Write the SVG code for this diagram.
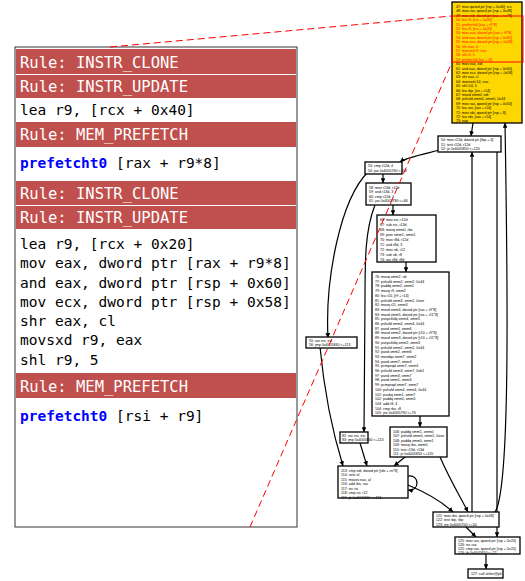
<svg xmlns="http://www.w3.org/2000/svg" width="525" height="581" viewBox="0 0 525 581">
<style>
.rule{fill:#c0504d}
.rt{font-family:"DejaVu Sans Mono","Liberation Mono",monospace;font-size:15.5px;fill:#ffffff}
.ct{font-family:"DejaVu Sans Mono","Liberation Mono",monospace;font-size:14.5px;fill:#000000}
.pf{fill:#0000ff;font-weight:bold}
.n{fill:#ffffff;stroke:#000000;stroke-width:1.3}
.ny{fill:#ffd700;stroke:#000000;stroke-width:1.3}
.t{font-family:"Liberation Sans",Arial,sans-serif;font-size:3.6px;fill:#000000}
.tr{fill:#ff0000}
.e{fill:none;stroke:#000000;stroke-width:1.2}
.d{fill:none;stroke:#ff0000;stroke-width:1;stroke-dasharray:7,4}
</style>
<defs>
<marker id="ah" viewBox="0 0 10 10" refX="10" refY="5" markerWidth="4" markerHeight="4" orient="auto"><path d="M0,0 L10,5 L0,10 z" fill="#000000"/></marker>
</defs>
<g id="panel">
<rect x="15" y="47" width="282" height="480" fill="#ffffff" stroke="#333333" stroke-width="1"/>
<rect class="rule" x="16" y="49" width="280" height="25"/>
<rect class="rule" x="16" y="75" width="280" height="23"/>
<rect class="rule" x="16" y="122" width="280" height="25"/>
<rect class="rule" x="16" y="181" width="280" height="24"/>
<rect class="rule" x="16" y="206" width="280" height="23"/>
<rect class="rule" x="16" y="373" width="280" height="25"/>
<text class="rt" x="20" y="68">Rule: INSTR_CLONE</text>
<text class="rt" x="20" y="92">Rule: INSTR_UPDATE</text>
<text class="ct" x="20" y="115">lea r9, [rcx + 0x40]</text>
<text class="rt" x="20" y="140">Rule: MEM_PREFETCH</text>
<text class="ct" x="20" y="168"><tspan class="pf">prefetcht0</tspan> [rax + r9*8]</text>
<text class="rt" x="20" y="199">Rule: INSTR_CLONE</text>
<text class="rt" x="20" y="223">Rule: INSTR_UPDATE</text>
<text class="ct" x="20" y="249">lea r9, [rcx + 0x20]</text>
<text class="ct" x="20" y="268">mov eax, dword ptr [rax + r9*8]</text>
<text class="ct" x="20" y="288">and eax, dword ptr [rsp + 0x60]</text>
<text class="ct" x="20" y="307">mov ecx, dword ptr [rsp + 0x58]</text>
<text class="ct" x="20" y="326">shr eax, cl</text>
<text class="ct" x="20" y="345">movsxd r9, eax</text>
<text class="ct" x="20" y="365">shl r9, 5</text>
<text class="rt" x="20" y="392">Rule: MEM_PREFETCH</text>
<text class="ct" x="20" y="421"><tspan class="pf">prefetcht0</tspan> [rsi + r9]</text>
</g>
<g id="connectors">
<path class="e" d="M473,123 L471,136" marker-end="url(#ah)"/>
<path class="e" d="M440,150 C420,155 405,158 400,162" marker-end="url(#ah)"/>
<path class="e" d="M383,174 L383,183" marker-end="url(#ah)"/>
<path class="e" d="M368,172 C340,200 325,280 328,338" marker-end="url(#ah)"/>
<path class="e" d="M393,205 L393,215" marker-end="url(#ah)"/>
<path class="e" d="M375,205 C365,230 365,260 365,300 L364,432" marker-end="url(#ah)"/>
<path class="e" d="M406,262 L406,272" marker-end="url(#ah)"/>
<path class="e" d="M420,416 L420,427" marker-end="url(#ah)"/>
<path class="e" d="M320,347 C325,400 335,440 343,466" marker-end="url(#ah)"/>
<path class="e" d="M360,443 L367,466" marker-end="url(#ah)"/>
<path class="e" d="M405,457 L394,466" marker-end="url(#ah)"/>
<path class="e" d="M440,457 C450,480 462,500 468,512" marker-end="url(#ah)"/>
<path class="e" d="M408,485 C425,492 440,500 453,512" marker-end="url(#ah)"/>
<path class="e" d="M408,476 C420,474 420,492 408,490" marker-end="url(#ah)"/>
<path class="e" d="M472,512 L472,152" marker-end="url(#ah)"/>
<path class="e" d="M495,512 C510,490 508,300 505,123" marker-end="url(#ah)"/>
<path class="e" d="M497,148 L497,537" marker-end="url(#ah)"/>
<path class="e" d="M466,527 L476,537" marker-end="url(#ah)"/>
<path class="e" d="M486,554 L486,569" marker-end="url(#ah)"/>
</g>
<g id="n_yellow">
<rect class="ny" x="452" y="2" width="70" height="121"/>
<text class="t" x="456" y="8">47: mov qword ptr [rsp + 0x40], rcx</text>
<text class="t" x="456" y="12.4">48: mov rax, qword ptr [rsp + 0x48]</text>
<text class="t" x="456" y="16.8">49: mov edi, dword ptr [rax + rcx*8]</text>
<text class="t tr" x="456" y="21.2">50: lea r9, [rcx + 0x40]</text>
<text class="t tr" x="456" y="25.6">51: prefetcht0 [rax + r9*8]</text>
<text class="t tr" x="456" y="30">52: lea r9, [rcx + 0x20]</text>
<text class="t tr" x="456" y="34.4">53: mov eax, dword ptr [rax + r9*8]</text>
<text class="t tr" x="456" y="38.8">54: and eax, dword ptr [rsp + 0x60]</text>
<text class="t tr" x="456" y="43.2">55: mov ecx, dword ptr [rsp + 0x58]</text>
<text class="t tr" x="456" y="47.6">56: shr eax, cl</text>
<text class="t tr" x="456" y="52">57: movsxd r9, eax</text>
<text class="t tr" x="456" y="56.4">58: shl r9, 5</text>
<text class="t tr" x="456" y="60.8">59: prefetcht0 [rsi + r9]</text>
<text class="t" x="456" y="65.2">60: mov eax, edi</text>
<text class="t" x="456" y="69.6">61: and eax, dword ptr [rsp + 0x60]</text>
<text class="t" x="456" y="74">62: mov ecx, dword ptr [rsp + 0x58]</text>
<text class="t" x="456" y="78.4">63: shr eax, cl</text>
<text class="t" x="456" y="82.8">64: movsxd r14, eax</text>
<text class="t" x="456" y="87.2">65: shl r14, 5</text>
<text class="t" x="456" y="91.6">66: lea rbp, [rsi + r14]</text>
<text class="t" x="456" y="96">67: movd xmm0, edi</text>
<text class="t" x="456" y="100.4">68: pshufd xmm0, xmm0, 0x44</text>
<text class="t" x="456" y="104.8">69: mov rax, qword ptr [rsp + 0x50]</text>
<text class="t" x="456" y="109.2">70: lea rax, [rax + r14]</text>
<text class="t" x="456" y="113.6">71: mov rdx, qword ptr [rsp + 8]</text>
<text class="t" x="456" y="118">72: lea rdx, [rax + r14]</text>
<text class="t" x="456" y="122.4">73: nop</text>
</g>
<rect x="452" y="16" width="71" height="46" fill="none" stroke="#ff0000" stroke-width="1"/>
<g id="n2">
<rect class="n" x="438" y="136" width="63" height="16"/>
<text class="t" x="441" y="141">50: mov r12d, dword ptr [rbp + 4]</text>
<text class="t" x="441" y="145.5">51: test r12d, r12d</text>
<text class="t" x="441" y="150">52: je 0x4005850 &lt;+120</text>
</g>
<g id="n3">
<rect class="n" x="365" y="162" width="37" height="12"/>
<text class="t" x="368" y="167">53: cmp r12d, 4</text>
<text class="t" x="368" y="171.5">54: jae 0x4005760 &lt;+58</text>
</g>
<g id="n4">
<rect class="n" x="366" y="183" width="45" height="22"/>
<text class="t" x="369" y="188.5">58: mov r13d, r12d</text>
<text class="t" x="369" y="193">59: and r13d, 3</text>
<text class="t" x="369" y="197.5">60: cmp r12d, 4</text>
<text class="t" x="369" y="202">61: jae 0x4005780 &lt;+66</text>
</g>
<g id="n5">
<rect class="n" x="377" y="215" width="59" height="47"/>
<text class="t" x="380" y="221">66: mov esi, r12d</text>
<text class="t" x="380" y="226">67: sub esi, r13d</text>
<text class="t" x="380" y="231">68: movq xmm0, rbx</text>
<text class="t" x="380" y="236">69: pxor xmm1, xmm1</text>
<text class="t" x="380" y="241">70: mov r8d, r12d</text>
<text class="t" x="380" y="246">71: and r8d, 3</text>
<text class="t" x="380" y="251">72: mov rdi, r12</text>
<text class="t" x="380" y="256">73: sub rdi, r8</text>
<text class="t" x="380" y="261">74: xor r8d, r8d</text>
</g>
<g id="n6">
<rect class="n" x="372" y="272" width="77" height="144"/>
<text class="t" x="375" y="278">76: movq xmm2, rdi</text>
<text class="t" x="375" y="282.7">77: pshufd xmm2, xmm2, 0x44</text>
<text class="t" x="375" y="287.4">78: paddq xmm2, xmm0</text>
<text class="t" x="375" y="292.1">79: movq r9, xmm2</text>
<text class="t" x="375" y="296.8">80: lea r10, [r9 + r14]</text>
<text class="t" x="375" y="301.5">81: pshufd xmm3, xmm2, 0xee</text>
<text class="t" x="375" y="306.2">82: movq r11, xmm3</text>
<text class="t" x="375" y="310.9">83: movd xmm4, dword ptr [rax + r9*8]</text>
<text class="t" x="375" y="315.6">84: movd xmm5, dword ptr [rax + r11*8]</text>
<text class="t" x="375" y="320.3">85: punpckldq xmm4, xmm5</text>
<text class="t" x="375" y="325">86: pshufd xmm4, xmm4, 0x44</text>
<text class="t" x="375" y="329.7">87: pand xmm4, xmm6</text>
<text class="t" x="375" y="334.4">88: movd xmm2, dword ptr [r10 + r9*8]</text>
<text class="t" x="375" y="339.1">89: movd xmm3, dword ptr [r10 + r11*8]</text>
<text class="t" x="375" y="343.8">90: punpckldq xmm2, xmm3</text>
<text class="t" x="375" y="348.5">91: pshufd xmm2, xmm2, 0x44</text>
<text class="t" x="375" y="353.2">92: pand xmm2, xmm6</text>
<text class="t" x="375" y="357.9">93: movdqa xmm7, xmm2</text>
<text class="t" x="375" y="362.6">94: pand xmm7, xmm4</text>
<text class="t" x="375" y="367.3">95: pcmpeqd xmm7, xmm4</text>
<text class="t" x="375" y="372">96: pshufd xmm3, xmm7, 0xb1</text>
<text class="t" x="375" y="376.7">97: pand xmm3, xmm7</text>
<text class="t" x="375" y="381.4">98: pand xmm1, xmm3</text>
<text class="t" x="375" y="386.1">99: pcmpeqd xmm7, xmm7</text>
<text class="t" x="375" y="390.8">100: pshufd xmm4, xmm4, 0x44</text>
<text class="t" x="375" y="395.5">101: psubq xmm1, xmm7</text>
<text class="t" x="375" y="400.2">102: paddq xmm0, xmm5</text>
<text class="t" x="375" y="404.9">103: add r8, 4</text>
<text class="t" x="375" y="409.6">104: cmp rbx, r8</text>
<text class="t" x="375" y="414.3">105: jne 0x4005790 &lt;+76</text>
</g>
<g id="n7">
<rect class="n" x="306" y="337" width="51" height="11"/>
<text class="t" x="309" y="341.7">55: xor esi, esi</text>
<text class="t" x="309" y="346.2">56: jmp 0x4005840 &lt;+113</text>
</g>
<g id="n8">
<rect class="n" x="340" y="432" width="28" height="11"/>
<text class="t" x="342" y="436.7">82: xor esi, esi</text>
<text class="t" x="342" y="441.2">83: jmp 0x4005840 &lt;+113</text>
</g>
<g id="n9">
<rect class="n" x="390" y="427" width="57" height="30"/>
<text class="t" x="393" y="432.5">106: paddq xmm1, xmm0</text>
<text class="t" x="393" y="437">107: pshufd xmm0, xmm1, 0xee</text>
<text class="t" x="393" y="441.5">108: paddq xmm0, xmm1</text>
<text class="t" x="393" y="446">109: movq rbx, xmm0</text>
<text class="t" x="393" y="450.5">110: test r13d, r13d</text>
<text class="t" x="393" y="455">111: je 0x4005850 &lt;+120</text>
</g>
<g id="n10">
<rect class="n" x="338" y="466" width="70" height="32"/>
<text class="t" x="341" y="471.5">113: cmp edi, dword ptr [rdx + rsi*8]</text>
<text class="t" x="341" y="476">114: sete al</text>
<text class="t" x="341" y="480.5">115: movzx eax, al</text>
<text class="t" x="341" y="485">116: add rbx, rax</text>
<text class="t" x="341" y="489.5">117: inc rsi</text>
<text class="t" x="341" y="494">118: cmp rsi, r12</text>
<text class="t" x="341" y="498.5">119: jb 0x4005840 &lt;+113</text>
</g>
<g id="n11">
<rect class="n" x="433" y="512" width="66" height="15"/>
<text class="t" x="436" y="517">121: mov rbx, qword ptr [rsp + 0x08]</text>
<text class="t" x="436" y="521.3">122: test rbp, rbp</text>
<text class="t" x="436" y="525.6">123: jne 0x4005700 &lt;+50</text>
</g>
<g id="n12">
<rect class="n" x="455" y="537" width="65" height="17"/>
<text class="t" x="458" y="541.5">125: mov rax, qword ptr [rsp + 0x20]</text>
<text class="t" x="458" y="545.5">126: inc rax</text>
<text class="t" x="458" y="549.5">125: cmp rax, qword ptr [rsp + 0x20]</text>
<text class="t" x="458" y="553.5">126: jb 0x4005650 &lt;+21</text>
</g>
<g id="n13">
<rect class="n" x="468" y="569" width="35" height="9"/>
<text class="t" x="471" y="575.3">127: call strlen@plt</text>
</g>
<path class="d" d="M110,47 L452,16"/>
<path class="d" d="M250,527 L452,62"/>
</svg>
